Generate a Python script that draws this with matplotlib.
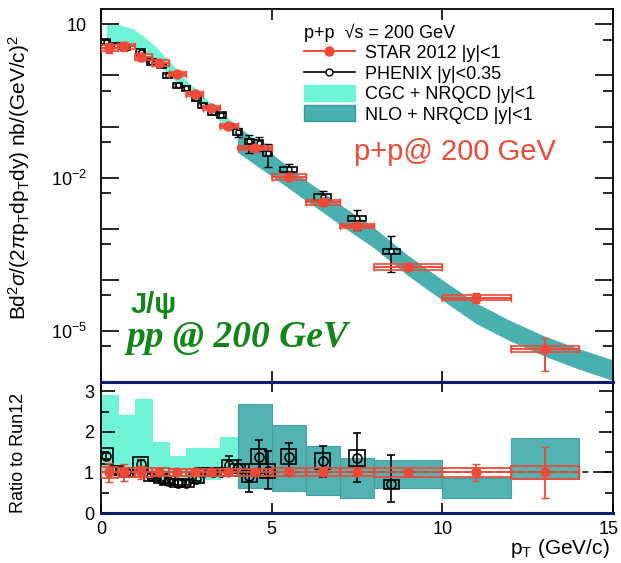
import numpy as np
import matplotlib
matplotlib.use('Agg')
import matplotlib.pyplot as plt
from matplotlib.patches import Rectangle, Patch
from matplotlib.lines import Line2D
from matplotlib.ticker import FixedLocator, NullFormatter
from matplotlib.transforms import ScaledTranslation

plt.rcParams['font.family'] = ['Liberation Sans', 'DejaVu Sans']
plt.rcParams['mathtext.fontset'] = 'custom'
plt.rcParams['mathtext.rm'] = 'Liberation Sans'
plt.rcParams['mathtext.it'] = 'Liberation Sans:italic'
plt.rcParams['mathtext.bf'] = 'Liberation Sans:bold'

# ---- STAR 2012 |y|<1 ----
star_pt = [0.24, 0.68, 1.17, 1.71, 2.22, 2.74, 3.22, 3.71, 4.5, 5.5, 6.5, 7.5, 9.0, 11.0, 13.0]
star_lo = [0.0, 0.5, 1.0, 1.5, 2.0, 2.5, 3.0, 3.5, 4.0, 5.0, 6.0, 7.0, 8.0, 10.0, 12.0]
star_hi = [0.5, 1.0, 1.5, 2.0, 2.5, 3.0, 3.5, 4.0, 5.0, 6.0, 7.0, 8.0, 10.0, 12.0, 14.0]
star_val = [3.5, 3.7, 2.3, 1.76, 1.08, 0.44, 0.23, 0.103, 0.038, 1.03e-2, 3.3e-3, 1.15e-3, 1.8e-4, 4.5e-5, 4.5e-6]
star_stat = [0.22, 0.2, 0.15, 0.08, 0.06, 0.05, 0.05, 0.05, 0.05, 0.05, 0.05, 0.06, 0.08, 0.21, 0.63]
star_sys = [0.15, 0.12, 0.12, 0.12, 0.1, 0.1, 0.1, 0.1, 0.1, 0.12, 0.1, 0.1, 0.12, 0.11, 0.15]

# ---- PHENIX |y|<0.35 ----
phx_pt = [0.14, 0.44, 0.73, 1.17, 1.47, 1.76, 1.95, 2.25, 2.49, 2.79, 2.98, 3.27, 3.52, 3.76,
          4.0, 4.35, 4.62, 4.89, 5.5, 6.5, 7.5, 8.5]
phx_val = [4.6, 3.9, 3.6, 2.9, 1.85, 1.6, 1.0, 0.65, 0.56, 0.36, 0.26, 0.19, 0.17, 0.10,
           0.079, 0.051, 0.048, 0.030, 1.45e-2, 4.2e-3, 1.6e-3, 3.6e-4]
phx_err_up = [0.06, 0.06, 0.06, 0.06, 0.06, 0.06, 0.06, 0.06, 0.06, 0.07, 0.07, 0.08, 0.08, 0.2,
              0.2, 0.35, 0.3, 0.5, 0.25, 0.3, 0.45, 1.0]
phx_err_dn = [0.06, 0.06, 0.06, 0.06, 0.06, 0.06, 0.06, 0.06, 0.06, 0.07, 0.07, 0.08, 0.08, 0.1,
              0.2, 0.4, 0.3, 0.45, 0.23, 0.3, 0.4, 0.6]
phx_ratio = [1.41, 1.05, 1.0, 1.22, 0.9, 0.85, 0.8, 0.75, 0.75, 0.85, 1.0, 1.0, 1.02, 1.18,
             1.1, 0.92, 1.39, 1.03, 1.39, 1.28, 1.36, 0.71]
phx_ratio_up = [0.08, 0.08, 0.08, 0.08, 0.07, 0.07, 0.07, 0.07, 0.07, 0.07, 0.08, 0.08, 0.1, 0.23,
                0.2, 0.3, 0.4, 0.5, 0.33, 0.37, 0.62, 0.72]
phx_ratio_dn = [0.08, 0.08, 0.08, 0.08, 0.07, 0.07, 0.07, 0.07, 0.07, 0.07, 0.08, 0.08, 0.1, 0.2,
                0.2, 0.4, 0.4, 0.45, 0.31, 0.39, 0.59, 0.44]
phx_ratio_sys = [0.19, 0.12, 0.12, 0.15, 0.1, 0.1, 0.1, 0.1, 0.1, 0.1, 0.1, 0.1, 0.1, 0.12,
                 0.12, 0.15, 0.19, 0.17, 0.18, 0.19, 0.2, 0.11]

# ---- CGC + NRQCD band (spectrum) ----
cgc_pt = [0.16, 0.54, 0.93, 1.22, 1.61, 2.0, 2.59, 3.18, 3.76, 4.35, 5.0]
cgc_up = [9.9, 9.9, 8.2, 6.1, 3.6, 1.9, 0.7, 0.3, 0.14, 0.068, 0.042]
cgc_dn = [4.5, 4.2, 3.6, 2.9, 1.9, 1.0, 0.42, 0.2, 0.085, 0.045, 0.026]

# ---- NLO + NRQCD band (spectrum) ----
nlo_pt = [4.0, 4.5, 5.0, 5.5, 6.0, 6.5, 7.0, 7.5, 8.0, 8.5, 9.0, 10.0, 11.0, 12.0, 13.0, 14.0, 15.0]
nlo_up = [0.1, 0.0537, 0.0295, 0.0162, 8.9e-3, 5.2e-3, 3.0e-3, 1.78e-3, 1.05e-3, 5.6e-4, 3.0e-4,
          1.0e-4, 3.5e-5, 1.58e-5, 7.9e-6, 4.5e-6, 2.7e-6]
nlo_dn = [0.0316, 0.0182, 0.0107, 6.2e-3, 3.55e-3, 2.1e-3, 1.2e-3, 7.1e-4, 4.2e-4, 2.24e-4, 1.2e-4,
          4.0e-5, 1.38e-5, 6.3e-6, 3.2e-6, 1.78e-6, 1.07e-6]

# ---- ratio panel theory boxes ----
cgc_r_lo = [0.0, 0.5, 1.0, 1.5, 2.0, 2.5, 3.0, 3.5]
cgc_r_hi = [0.5, 1.0, 1.5, 2.0, 2.5, 3.0, 3.5, 4.0]
cgc_r_top = [2.92, 2.42, 2.81, 1.74, 1.41, 1.60, 1.60, 1.87]
cgc_r_bot = [1.0, 1.0, 1.0, 0.85, 0.8, 0.8, 0.85, 0.9]

nlo_r_lo = [4.0, 5.0, 6.0, 7.0, 8.0, 10.0, 12.0]
nlo_r_hi = [5.0, 6.0, 7.0, 8.0, 10.0, 12.0, 14.0]
nlo_r_top = [2.69, 2.16, 1.66, 1.35, 1.31, 0.87, 1.86]
nlo_r_bot = [0.62, 0.54, 0.44, 0.37, 0.61, 0.37, 0.84]

star_r_stat = [0.23, 0.2, 0.15, 0.06, 0.05, 0.05, 0.05, 0.05, 0.05, 0.05, 0.05, 0.05, 0.06, 0.21, 0.63]
star_r_sys = [0.14, 0.12, 0.12, 0.1, 0.08, 0.08, 0.08, 0.08, 0.08, 0.1, 0.1, 0.1, 0.12, 0.11, 0.15]

red = '#ee4a38'
aqua = '#6ff5d6'
teal = '#4aafaf'
navy = '#101c6e'
green = '#13861a'

fig = plt.figure(figsize=(6.21, 5.63), dpi=100)
ax = fig.add_axes([101 / 621, (563 - 382) / 563, 512 / 621, 373 / 563])
axr = fig.add_axes([101 / 621, (563 - 513) / 563, 512 / 621, 131 / 563])

# ================= spectrum panel =================
ax.set_yscale('log')
ax.fill_between(cgc_pt, cgc_dn, cgc_up, color=aqua, lw=0, zorder=1)
ax.fill_between(nlo_pt, nlo_dn, nlo_up, color=teal, lw=0, zorder=2)

phx_pt_a = np.array(phx_pt)
phx_val_a = np.array(phx_val)
for p, v in zip(phx_pt, phx_val):
    hw = 0.13 if p < 5 else 0.25
    ax.add_patch(Rectangle((p - hw, v * 0.88), 2 * hw, v * 0.24, fill=False,
                           ec='black', lw=1.2, zorder=3))
ax.errorbar(phx_pt_a, phx_val_a,
            yerr=[phx_val_a * np.array(phx_err_dn), phx_val_a * np.array(phx_err_up)],
            fmt='o', ms=3.5, mfc='white', mec='black', color='black', ecolor='black',
            elinewidth=1.2, capsize=3, zorder=4)

sv = np.array(star_val)
spt = np.array(star_pt)
for lo, hi, v, s in zip(star_lo, star_hi, star_val, star_sys):
    ax.add_patch(Rectangle((lo, v * (1 - s)), hi - lo, v * 2 * s, fill=False,
                           ec=red, lw=1.2, zorder=5))
ax.errorbar(spt, sv, xerr=[spt - np.array(star_lo), np.array(star_hi) - spt],
            yerr=sv * np.array(star_stat), fmt='o', ms=6.5, color=red, ecolor=red,
            elinewidth=1.4, capsize=3, zorder=6)

ax.set_xlim(0, 15)
ax.set_ylim(1e-6, 20)
ax.yaxis.set_major_locator(FixedLocator([10.0 ** k for k in range(-6, 2)]))
ax.yaxis.set_minor_locator(FixedLocator([5 * 10.0 ** k for k in range(-7, 1)]))
ax.yaxis.set_minor_formatter(NullFormatter())
ax.set_yticklabels(['', r'$10^{-5}$', '', '', r'$10^{-2}$', '', '', '10'])
ax.set_xticks([0, 5, 10, 15])
ax.set_xticklabels([])
ax.tick_params(axis='both', which='both', direction='in', top=True, right=True,
               labelsize=13, width=1.2)
ax.tick_params(axis='y', which='major', length=13, pad=10)
ax.tick_params(axis='y', which='minor', length=7)
ax.tick_params(axis='x', which='major', length=8)
for sp in ax.spines.values():
    sp.set_linewidth(1.3)
ax.spines['bottom'].set_color(navy)
ax.spines['bottom'].set_linewidth(2.2)

handles = [
    Line2D([0], [0], color=red, marker='o', ms=6.5, lw=1.4),
    Line2D([0], [0], color='black', marker='o', ms=5, mfc='white', lw=1.2),
    Patch(facecolor=aqua, edgecolor=aqua),
    Patch(facecolor=teal, edgecolor='#3b9a9a'),
]
labels = ['STAR 2012 |y|<1', 'PHENIX |y|<0.35', 'CGC + NRQCD |y|<1', 'NLO + NRQCD |y|<1']
leg = ax.legend(handles, labels, title='p+p  \u221As = 200 GeV', loc='upper left',
                bbox_to_anchor=(0.372, 0.995), frameon=False, fontsize=13,
                title_fontsize=13, handlelength=2.8, handleheight=1.0,
                handletextpad=0.6, labelspacing=0.12, borderpad=0.2)
leg._legend_box.align = 'left'

ax.text(0.888, 0.595, 'p+p@ 200 GeV', transform=ax.transAxes, color=red,
        fontsize=21, ha='right', va='baseline')
ax.text(0.058, 0.185, 'J/\u03c8', transform=ax.transAxes, color=green,
        fontsize=21, fontweight='bold', va='baseline')
ax.text(0.05, 0.094, 'pp @ 200 GeV', transform=ax.transAxes, color=green,
        fontsize=27, fontweight='bold', style='italic', family='Liberation Serif',
        va='baseline')

# ================= ratio panel =================
for lo, hi, t, b in zip(cgc_r_lo, cgc_r_hi, cgc_r_top, cgc_r_bot):
    axr.add_patch(Rectangle((lo, b), hi - lo, t - b, fc=aqua, ec=aqua, lw=0.8, zorder=1))
for lo, hi, t, b in zip(nlo_r_lo, nlo_r_hi, nlo_r_top, nlo_r_bot):
    axr.add_patch(Rectangle((lo, b), hi - lo, t - b, fc=teal, ec='#3f9e9e', lw=0.8,
                            alpha=0.95, zorder=2))
axr.axhline(1.0, color='black', ls=(0, (4, 3)), lw=1.1, zorder=2.5)

phr = np.array(phx_ratio)
for p, r, s in zip(phx_pt, phx_ratio, phx_ratio_sys):
    axr.add_patch(Rectangle((p - 0.22, r - s), 0.44, 2 * s, fill=False, ec='black',
                            lw=1.2, zorder=3))
axr.errorbar(phx_pt_a, phr, yerr=[phx_ratio_dn, phx_ratio_up], fmt='o', ms=6.5,
             mfc='none', mec='black', mew=1.2, ecolor='black', elinewidth=1.2,
             capsize=3, zorder=4)

ones = np.ones(len(star_pt))
for lo, hi, s in zip(star_lo, star_hi, star_r_sys):
    axr.add_patch(Rectangle((lo, 1 - s), hi - lo, 2 * s, fill=False, ec=red, lw=1.3,
                            zorder=5))
axr.errorbar(spt, ones, xerr=[spt - np.array(star_lo), np.array(star_hi) - spt],
             yerr=star_r_stat, fmt='o', ms=6.5, color=red, ecolor=red, elinewidth=1.3,
             capsize=3, zorder=6)

axr.set_xlim(0, 15)
axr.set_ylim(0, 3.23)
axr.set_xticks([0, 5, 10, 15])
axr.set_xticklabels(['0', '5', '10', '15'])
axr.set_yticks([0, 1, 2, 3])
axr.set_yticks([0.5, 1.5, 2.5], minor=True)
axr.tick_params(axis='both', which='both', direction='in', top=True, right=True,
                labelsize=13, width=1.2)
axr.tick_params(axis='y', which='major', length=10, pad=5)
axr.tick_params(axis='y', which='minor', length=6)
axr.tick_params(axis='x', which='major', length=7, pad=6)
for sp in axr.spines.values():
    sp.set_linewidth(1.3)
axr.spines['top'].set_color(navy)
axr.spines['top'].set_linewidth(2.2)
axr.spines['bottom'].set_color(navy)
axr.spines['bottom'].set_linewidth(2.2)

# keep the "15" label inside the canvas
last = axr.get_xticklabels()[-1]
last.set_transform(last.get_transform() + ScaledTranslation(-3 / 72, 0, fig.dpi_scale_trans))

fig.text(610 / 621, 1 - 548 / 563, r'p$_{\rm T}$ (GeV/c)', ha='right', va='center',
         fontsize=15)
fig.text(19 / 621, 1 - 178 / 563,
         r'Bd$^{2}\sigma$/(2$\pi$p$_{\rm T}$dp$_{\rm T}$dy) nb/(GeV/c)$^{2}$',
         rotation=90, ha='center', va='center', fontsize=15)
fig.text(19 / 621, 1 - 453 / 563, 'Ratio to Run12', rotation=90, ha='center',
         va='center', fontsize=13)

fig.savefig('out.png', dpi=100)
